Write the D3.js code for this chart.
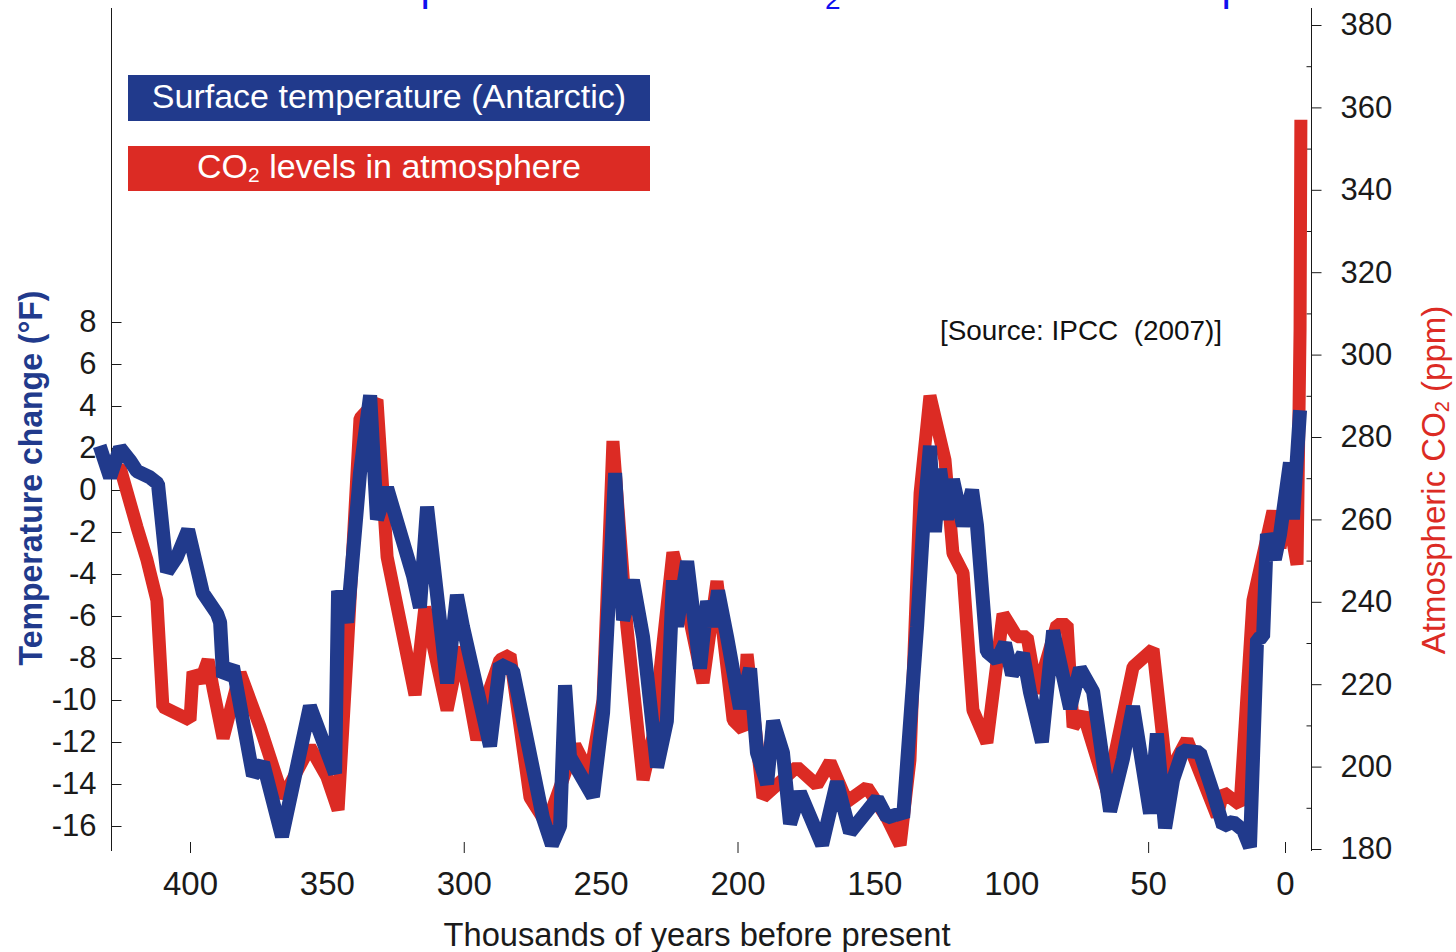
<!DOCTYPE html>
<html>
<head>
<meta charset="utf-8">
<script src="https://cdn.jsdelivr.net/npm/d3@7"></script>
<style>
  html, body { margin: 0; padding: 0; background: #ffffff; }
  svg { display: block; }
  text { font-family: "Liberation Sans", Arial, Helvetica, sans-serif; }
</style>
</head>
<body>
<svg id="chart" width="1456" height="952"></svg>
<script>
// Antarctic surface temperature change (°F), thousands of years before present
const tempYears = [433, 429.2, 425.6, 421.9, 419.4, 414.6, 411.7, 408.4, 404.8, 400.7,
  395.3, 390.1, 389.0, 387.9, 384.3, 377.0, 373.3, 366.4, 356.2, 347.0,
  345.9, 342.6, 337.9, 334.2, 331.7, 328.0, 318.5, 316.0, 313.4, 306.1,
  302.5, 300.3, 290.4, 286.8, 282.0, 271.1, 267.8, 264.8, 263.0, 261.2,
  252.8, 249.1, 244.7, 241.8, 238.2, 234.5, 229.4, 225.8, 223.6, 222.1,
  218.4, 213.7, 211.1, 209.0, 207.1, 203.8, 199.1, 195.4, 192.9, 189.2,
  187.0, 183.4, 180.8, 177.2, 169.1, 163.7, 158.9, 149.0, 145.4, 140.6,
  139.5, 134.4, 132.2, 129.7, 127.9, 126.0, 123.5, 121.3, 117.6, 114.3,
  112.5, 108.9, 105.2, 102.3, 99.7, 95.7, 93.2, 88.8, 84.7, 78.5,
  74.9, 70.1, 63.9, 59.2, 55.5, 49.3, 46.8, 43.8, 40.9, 37.3,
  31.1, 26.3, 22.6, 19.0, 15.3, 12.8, 10.2, 8.0, 6.6, 3.7,
  1.8, -1.8, -2.9, -5.5];
const tempValues = [2.1, 0.6, 2.0, 1.4, 0.9, 0.6, 0.3, -3.9, -3.2, -1.9,
  -4.9, -5.9, -6.3, -8.9, -8.4, -13.6, -13.0, -16.5, -10.3, -13.5,
  -4.8, -6.3, 0.8, 4.5, -1.4, 0.1, -4.1, -5.6, -0.8, -9.2,
  -5.0, -6.5, -12.2, -8.3, -8.6, -15.6, -16.9, -16.0, -9.3, -12.7,
  -14.6, -10.6, 0.8, -6.2, -4.3, -7.0, -13.2, -11.0, -4.3, -6.5,
  -3.4, -8.5, -5.3, -6.5, -4.8, -7.0, -10.4, -8.5, -12.5, -14.0,
  -11.0, -12.5, -15.9, -14.4, -16.9, -13.9, -16.3, -14.7, -15.6, -15.4,
  -15.6, -6.5, -1.8, 2.1, -2.0, 1.0, -1.4, 0.5, -1.7, 0.0,
  -1.7, -7.7, -8.1, -7.3, -8.8, -7.8, -9.6, -12.0, -6.7, -10.4,
  -8.5, -9.6, -15.3, -12.8, -10.3, -15.4, -11.6, -16.1, -13.8, -12.4,
  -12.5, -14.4, -16.0, -15.8, -16.2, -17.0, -7.1, -7.0, -2.1, -3.3,
  -2.1, 1.3, -1.4, 3.8];

// Atmospheric CO2 (ppm), thousands of years before present
const co2Years = [431.8, 425.6, 419.4, 415.7, 412.1, 409.9, 400.0, 398.9, 396.3, 393.4,
  391.6, 387.9, 381.7, 374.4, 366.0, 356.2, 350.0, 345.9, 342.6, 337.9,
  331.7, 328.0, 317.8, 314.2, 306.1, 301.4, 295.2, 291.5, 286.8, 283.1,
  275.8, 269.6, 259.4, 253.9, 249.1, 245.5, 240.4, 234.5, 230.9, 223.6,
  218.4, 212.6, 207.5, 201.6, 198.0, 196.5, 190.7, 178.3, 171.0, 166.2,
  160.0, 152.7, 145.4, 140.6, 137.0, 133.3, 129.7, 124.2, 121.3, 117.6,
  114.0, 108.9, 103.0, 97.9, 94.2, 90.6, 83.3, 79.6, 77.4, 73.8,
  65.0, 55.5, 48.2, 43.1, 35.8, 24.8, 22.6, 16.4, 11.7, 4.4,
  1.8, -0.7, -4.4, -5.5, -5.8];
const co2Values = [271.3, 272.7, 258.2, 250.1, 240.4, 214.5, 211.3, 223.0, 220.5, 225.9,
  219.1, 206.9, 222.7, 209.6, 192.5, 204.8, 197.5, 189.5, 227.6, 284.5,
  289.0, 250.9, 217.4, 238.7, 213.7, 229.0, 206.5, 216.9, 225.9, 227.1,
  192.5, 186.0, 205.2, 198.0, 216.2, 279.0, 233.9, 196.8, 207.2, 252.0,
  238.7, 220.3, 245.0, 211.3, 208.9, 227.3, 192.5, 199.9, 195.5, 201.1,
  191.5, 195.0, 187.5, 181.0, 201.6, 266.4, 290.0, 274.4, 251.8, 247.0,
  213.7, 205.8, 237.0, 231.5, 231.5, 217.9, 234.5, 234.5, 209.6, 213.0,
  194.0, 224.2, 228.5, 197.5, 206.5, 188.0, 193.8, 190.7, 240.4, 262.0,
  253.1, 263.0, 249.0, 306.0, 357.0];

// Axis tick labels
const tempTicks = [8, 6, 4, 2, 0, -2, -4, -6, -8, -10, -12, -14, -16];
const co2Ticks = [380, 360, 340, 320, 300, 280, 260, 240, 220, 200, 180];
const yearTicks = [400, 350, 300, 250, 200, 150, 100, 50, 0];
const yearTickMarks = [400, 300, 200, 50, 0];

const tempSeries = tempYears.map((k, i) => ({ k, v: tempValues[i] }));
const co2Series = co2Years.map((k, i) => ({ k, v: co2Values[i] }));

const BLUE = "#213a8c";
const RED = "#dc2b24";
const INK = "#1a1a1a";

const svg = d3.select("#chart");

const x = d3.scaleLinear().domain([400, 0]).range([190, 1285]);
const yT = d3.scaleLinear().domain([-16, 8]).range([826, 322]);
const yC = d3.scaleLinear().domain([180, 380]).range([849, 25]);

// Title line running off the top edge: only its descenders stay on the page
const titleG = svg.append("g").attr("fill", "#1010ee").attr("font-size", 42);
const titleChunks = [
  { pre: "Antarctic temp", sub: "", anchor: 13, target: 420.5 },
  { pre: "erature and CO", sub: "2", anchor: 14, target: 825 },
  { pre: "over the past", sub: "", anchor: 9, target: 1221.5 }
];
titleChunks.forEach(c => {
  const t = titleG.append("text").attr("x", 0).attr("y", 0);
  t.append("tspan").text(c.pre);
  if (c.sub) t.append("tspan").attr("font-size", 28).attr("dy", 9).text(c.sub);
  const pos = t.node().getStartPositionOfChar(c.anchor).x;
  t.attr("x", c.target - pos);
});

// Axis lines
svg.append("line").attr("x1", 111.5).attr("x2", 111.5).attr("y1", 8).attr("y2", 851)
  .attr("stroke", INK).attr("stroke-width", 1);
svg.append("line").attr("x1", 1311.5).attr("x2", 1311.5).attr("y1", 8).attr("y2", 851)
  .attr("stroke", INK).attr("stroke-width", 1);

// Left axis: temperature
const gL = svg.append("g").attr("transform", "translate(111.5,0)")
  .call(d3.axisLeft(yT).tickValues(tempTicks).tickSize(-10).tickSizeOuter(0)
    .tickPadding(15).tickFormat(d => String(d)));
gL.select(".domain").remove();
gL.selectAll(".tick line").attr("stroke", INK);
gL.selectAll(".tick text").attr("fill", INK).attr("font-size", 31)
  .attr("font-family", "'Liberation Sans', Arial, sans-serif");

// Right axis: CO2
const gR = svg.append("g").attr("transform", "translate(1311.5,0)")
  .call(d3.axisRight(yC).tickValues(co2Ticks).tickSize(10).tickSizeOuter(0).tickPadding(19));
gR.select(".domain").remove();
gR.selectAll(".tick line").attr("stroke", INK);
gR.selectAll(".tick text").attr("fill", INK).attr("font-size", 31)
  .attr("font-family", "'Liberation Sans', Arial, sans-serif");
const gRm = svg.append("g").attr("transform", "translate(1311.5,0)")
  .call(d3.axisRight(yC).tickValues(d3.range(190, 380, 20)).tickSize(-5).tickSizeOuter(0).tickFormat(""));
gRm.select(".domain").remove();
gRm.selectAll(".tick line").attr("stroke", INK);

// Bottom axis: years before present
const gB = svg.append("g").attr("transform", "translate(0,850)")
  .call(d3.axisBottom(x).tickValues(yearTicks).tickSize(0).tickPadding(21.5));
gB.select(".domain").remove();
gB.selectAll(".tick text").attr("fill", INK).attr("font-size", 33)
  .attr("font-family", "'Liberation Sans', Arial, sans-serif");
const gBt = svg.append("g").attr("transform", "translate(0,853)")
  .call(d3.axisTop(x).tickValues(yearTickMarks).tickSize(11).tickSizeOuter(0).tickFormat(""));
gBt.select(".domain").remove();
gBt.selectAll(".tick line").attr("stroke", INK);

// Data lines
const lineT = d3.line().x(d => x(d.k)).y(d => yT(d.v));
const lineC = d3.line().x(d => x(d.k)).y(d => yC(d.v));

svg.append("path").datum(co2Series).attr("d", lineC)
  .attr("fill", "none").attr("stroke", RED).attr("stroke-width", 13)
  .attr("stroke-linejoin", "bevel").attr("stroke-linecap", "butt");
svg.append("path").datum(tempSeries).attr("d", lineT)
  .attr("fill", "none").attr("stroke", BLUE).attr("stroke-width", 14)
  .attr("stroke-linejoin", "bevel").attr("stroke-linecap", "butt");

// Legend boxes
const legend = [
  { label: "Surface temperature (Antarctic)", sub: null, color: BLUE, y: 75, h: 46, base: 108 },
  { label: "CO", sub: "2", rest: " levels in atmosphere", color: RED, y: 146, h: 45, base: 178 }
];
legend.forEach(l => {
  svg.append("rect").attr("x", 128).attr("y", l.y).attr("width", 522).attr("height", l.h)
    .attr("fill", l.color);
  const t = svg.append("text").attr("x", 389).attr("y", l.base)
    .attr("text-anchor", "middle").attr("fill", "#ffffff").attr("font-size", 34);
  t.append("tspan").text(l.label);
  if (l.sub) {
    t.append("tspan").attr("font-size", 21).attr("dy", 4).text(l.sub);
    t.append("tspan").attr("dy", -4).text(l.rest);
  }
});

// Source note
svg.append("text").attr("x", 940).attr("y", 340).attr("font-size", 28)
  .attr("fill", "#111").style("white-space", "pre")
  .attr("textLength", 282).attr("lengthAdjust", "spacingAndGlyphs")
  .text("[Source: IPCC  (2007)]");

// Axis titles
svg.append("text").attr("transform", "translate(42,478) rotate(-90)")
  .attr("text-anchor", "middle").attr("fill", BLUE).attr("font-size", 33)
  .attr("font-weight", "bold")
  .attr("textLength", 375).attr("lengthAdjust", "spacingAndGlyphs")
  .text("Temperature change (°F)");

const rt = svg.append("text").attr("transform", "translate(1445,480) rotate(-90)")
  .attr("text-anchor", "middle").attr("fill", RED).attr("font-size", 33);
rt.append("tspan").text("Atmospheric CO");
rt.append("tspan").attr("font-size", 20).attr("dy", 4).text("2");
rt.append("tspan").attr("dy", -4).text(" (ppm)");

svg.append("text").attr("x", 697).attr("y", 946).attr("text-anchor", "middle")
  .attr("fill", INK).attr("font-size", 33)
  .attr("textLength", 507).attr("lengthAdjust", "spacingAndGlyphs")
  .text("Thousands of years before present");
</script>
</body>
</html>
